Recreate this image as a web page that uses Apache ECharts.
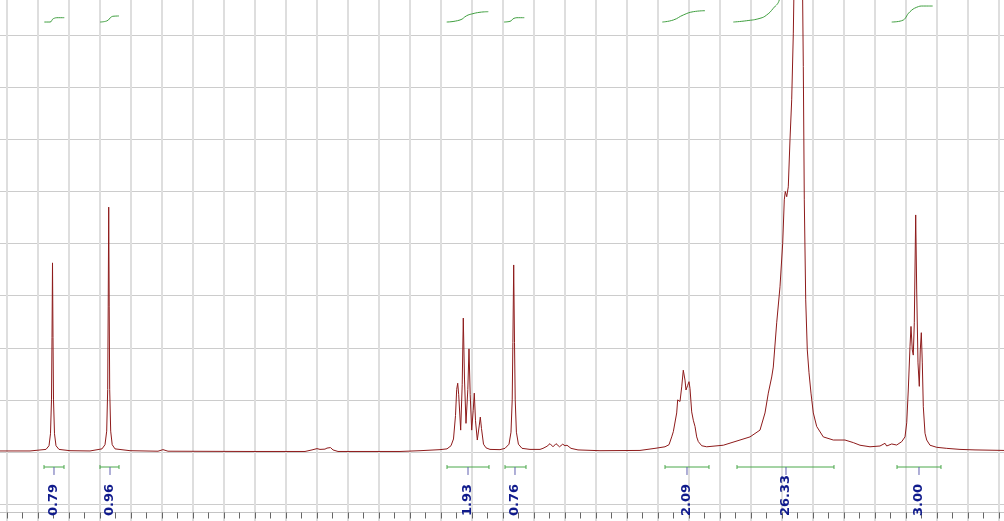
<!DOCTYPE html>
<html><head><meta charset="utf-8">
<script src="https://cdn.jsdelivr.net/npm/echarts@6/dist/echarts.min.js"></script>
<style>html,body{margin:0;padding:0;background:#fff}#c{width:1004px;height:521px}</style>
</head><body><div id="c"></div><script>
// 1H NMR spectrum, x = chemical shift (ppm), y = intensity (grid units)
const spectrumLeft = [[3.90,0.02],[3.7258,0.02],[3.6742,0.05],[3.6645,0.12],[3.6597,0.35],[3.6565,1.0],[3.6548,2.2],[3.6532,3.63],[3.6516,2.2],[3.65,1.0],[3.6468,0.35],[3.6419,0.12],[3.6323,0.05],[3.5968,0.025],
[3.5323,0.02],[3.4935,0.06],[3.4839,0.14],[3.4784,0.4],[3.4752,1.2],[3.4735,2.8],[3.4719,4.70],[3.4703,2.8],[3.4687,1.2],[3.4655,0.4],[3.4606,0.14],[3.4516,0.06],[3.4032,0.025],
[3.3129,0.015],[3.2968,0.045],[3.2806,0.015],[3.0161,0.01]];
const spectrumMid = [[2.8387,0.01],[2.8161,0.04],[2.80,0.065],[2.7903,0.05],[2.7839,0.07],[2.7742,0.055],[2.7677,0.075],[2.7613,0.06],[2.7565,0.085],[2.7484,0.04],[2.7323,0.01],[2.5323,0.01],[2.4677,0.025],[2.4032,0.045],
[2.3806,0.06],[2.3677,0.12],[2.3597,0.25],[2.3532,0.7],[2.3494,1.2],[2.3461,1.32],[2.3429,1.1],[2.3365,0.42],[2.3316,1.3],[2.3281,2.57],[2.3242,1.4],[2.3194,0.55],[2.3135,1.2],[2.3097,1.98],[2.3058,1.1],[2.3010,0.42],[2.2961,0.8],[2.2926,1.13],[2.2887,0.6],[2.2829,0.23],[2.2768,0.5],[2.2732,0.67],[2.2694,0.45],[2.2629,0.15],[2.2548,0.08],[2.2419,0.05],[2.2097,0.045],
[2.1935,0.07],[2.1806,0.15],[2.1742,0.38],[2.1703,1.0],[2.1681,2.1],[2.1655,3.59],[2.1629,2.1],[2.1606,1.0],[2.1568,0.38],[2.1503,0.15],[2.1387,0.07],[2.1129,0.05],[2.0806,0.05],
[2.0710,0.07],[2.0581,0.11],[2.0484,0.16],[2.0387,0.1],[2.0290,0.16],[2.0177,0.1],[2.0074,0.15],[2.0,0.12],[1.9935,0.13],[1.9806,0.07],[1.9581,0.04],[1.8871,0.025],[1.7581,0.03]];
const spectrumRight = [[1.7097,0.07],[1.6774,0.1],[1.6645,0.14],[1.6558,0.29],[1.6506,0.39],[1.6452,0.42],[1.6397,0.75],[1.6365,1.0],[1.6323,1.03],[1.6290,0.97],[1.6235,1.25],[1.6184,1.57],[1.6152,1.58],[1.6129,1.38],[1.6097,1.19],[1.6042,1.28],[1.6,1.35],[1.5968,1.22],[1.5913,0.77],[1.5861,0.61],[1.5806,0.49],[1.5752,0.29],[1.5700,0.2],[1.5590,0.12],[1.5429,0.1],[1.4894,0.13],[1.4355,0.23],
[1.4032,0.29],[1.3710,0.42],[1.3548,0.75],[1.3442,1.13],[1.3332,1.44],[1.3281,1.63],[1.3171,2.48],[1.3065,3.17],[1.2977,4.01],[1.2926,4.84],[1.2894,5.0],[1.2848,4.9],[1.2797,5.09],[1.2742,5.99],[1.2687,6.76],[1.2635,8.04],[1.2597,9.5],[1.2548,11.5],[1.2484,13],[1.2419,12.5],[1.2355,10],[1.2313,7.4],[1.2281,4.84],[1.2235,2.92],[1.2184,1.96],[1.2129,1.52],[1.2065,1.13],[1.1990,0.75],[1.1881,0.49],[1.1668,0.29],[1.1345,0.23],[1.0968,0.23],[1.0700,0.18],[1.0484,0.13],[1.0161,0.1],
[0.9839,0.115],[0.9677,0.167],[0.9623,0.115],[0.9461,0.154],[0.9300,0.134],[0.9139,0.198],[0.9032,0.29],[0.8977,0.56],[0.8926,1.19],[0.8871,2.02],[0.8839,2.41],[0.8797,1.96],[0.8765,1.86],[0.8732,2.48],[0.8687,4.55],[0.8655,3.11],[0.8613,1.71],[0.8571,1.26],[0.8539,1.96],[0.8506,2.29],[0.8474,1.71],[0.8442,0.87],[0.8387,0.36],[0.8332,0.23],[0.8226,0.13],[0.8010,0.09],[0.7687,0.07],[0.7258,0.05],[0.6774,0.04],[0.5839,0.03],[0.5,0.03]];

// integration regions (ppm) and values
const integralStart  = [3.6806, 3.5000, 2.3806, 2.1935, 1.6774, 1.4452, 0.9290];
const integralEnd    = [3.6161, 3.4387, 2.2452, 2.1258, 1.5355, 1.1323, 0.7871];
const integralCenter = [3.6484, 3.4677, 2.3129, 2.1613, 1.6065, 1.2871, 0.8581];
const integralLabels = ['0.79', '0.96', '1.93', '0.76', '2.09', '26.33', '3.00'];

// integral curves (ppm, level)
const integralCurves = [
  [[3.6797,8.253],[3.6613,8.253],[3.6506,8.317],[3.6345,8.336],[3.6152,8.336]],
  [[3.5000,8.253],[3.4784,8.273],[3.4623,8.355],[3.4548,8.365],[3.4387,8.369]],
  [[2.3816,8.253],[2.3387,8.292],[2.3171,8.374],[2.3010,8.407],[2.2742,8.440],[2.2474,8.451]],
  [[2.1968,8.253],[2.1774,8.266],[2.1645,8.324],[2.1506,8.336],[2.1313,8.336]],
  [[1.6861,8.253],[1.6506,8.292],[1.6184,8.388],[1.5861,8.451],[1.5484,8.470]],
  [[1.4571,8.253],[1.4139,8.278],[1.3710,8.324],[1.3494,8.388],[1.3281,8.516],[1.3087,8.676],[1.2871,9.3]],
  [[0.9461,8.253],[0.9139,8.278],[0.8871,8.451],[0.8655,8.536],[0.8442,8.560],[0.8139,8.560]]
];

const BAR_Y = -0.288, CAP_T = -0.25, CAP_B = -0.326, TICK_Y = -0.441, LABEL_Y = -1.228;

const chart = echarts.init(document.getElementById('c'), null, {renderer: 'canvas'});
const series = [{
  type: 'line', data: spectrumLeft.concat(spectrumMid, spectrumRight),
  showSymbol: false, symbol: 'none', smooth: false, clip: true,
  lineStyle: {color: '#8e1b1b', width: 1}, z: 3
}];
integralCurves.forEach(c => series.push({
  type: 'line', data: c, showSymbol: false, symbol: 'none', smooth: true, clip: true,
  lineStyle: {color: '#3f9f3f', width: 1}, z: 2
}));
series.push({
  type: 'custom', clip: false, z: 4,
  data: integralStart.map((s, i) => [s, integralEnd[i], integralCenter[i]]),
  renderItem: function (params, api) {
    const s = api.coord([api.value(0), BAR_Y]);
    const e = api.coord([api.value(1), BAR_Y]);
    const sT = api.coord([api.value(0), CAP_T]), sB = api.coord([api.value(0), CAP_B]);
    const eT = api.coord([api.value(1), CAP_T]), eB = api.coord([api.value(1), CAP_B]);
    const c0 = api.coord([api.value(2), BAR_Y]);
    const c1 = api.coord([api.value(2), TICK_Y]);
    const lp = api.coord([api.value(2), LABEL_Y]);
    const green = {stroke: '#4aa84a', lineWidth: 1};
    return {type: 'group', children: [
      {type: 'line', shape: {x1: s[0], y1: s[1], x2: e[0], y2: e[1]}, style: green},
      {type: 'line', shape: {x1: sT[0], y1: sT[1], x2: sB[0], y2: sB[1]}, style: green},
      {type: 'line', shape: {x1: eT[0], y1: eT[1], x2: eB[0], y2: eB[1]}, style: green},
      {type: 'line', shape: {x1: c0[0], y1: c0[1], x2: c1[0], y2: c1[1]}, style: {stroke: '#6060b0', lineWidth: 1}},
      {type: 'text', x: lp[0], y: lp[1], rotation: Math.PI / 2,
        style: {text: integralLabels[params.dataIndex], fill: '#0f1a8c',
          font: 'bold 13px "DejaVu Sans"', align: 'left', verticalAlign: 'middle'}}
    ]};
  }
});

chart.setOption({
  animation: false,
  backgroundColor: '#ffffff',
  grid: {left: -24, right: -26, top: -16.9, bottom: -35.2, containLabel: false, outerBoundsMode: 'none'},
  xAxis: {
    type: 'value', inverse: true, min: 0.5, max: 3.9, interval: 0.1, offset: -43.7,
    axisLine: {show: true, onZero: false, lineStyle: {color: '#c4c4c4', width: 1}},
    axisTick: {show: true, length: 6, lineStyle: {color: '#666'}},
    minorTick: {show: true, splitNumber: 2, length: 6, lineStyle: {color: '#666'}},
    axisLabel: {show: false},
    splitLine: {show: true, lineStyle: {color: '#dedede', width: 2}}
  },
  yAxis: {
    type: 'value', min: -2, max: 9, interval: 1,
    axisLine: {show: false}, axisTick: {show: false}, axisLabel: {show: false},
    splitLine: {show: true, lineStyle: {color: '#cccccc', width: 1}}
  },
  series: series
});
</script></body></html>
